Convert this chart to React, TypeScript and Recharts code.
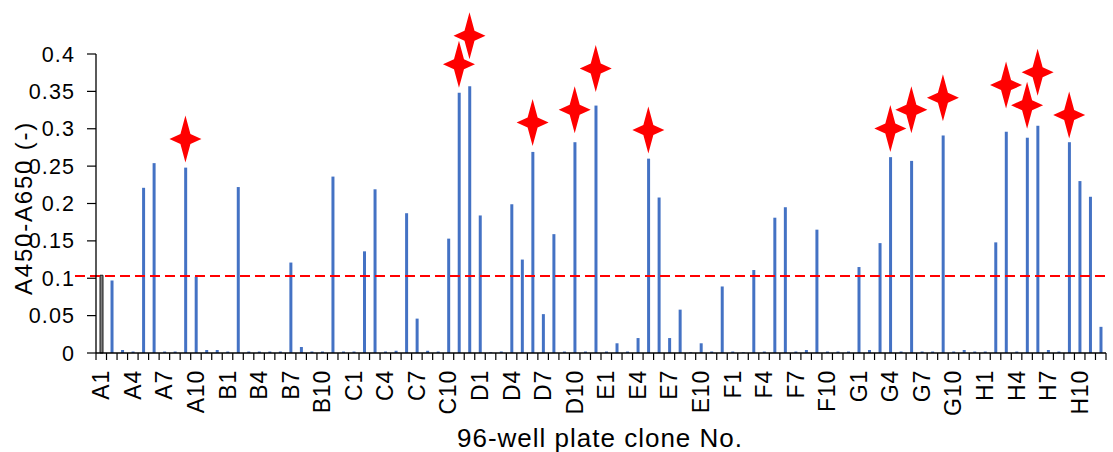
import React from "react";
import { ComposedChart, Bar, Cell, XAxis, YAxis, ReferenceLine, Scatter, Label } from "recharts";

const WELLS = [
  "A1","A2","A3","A4","A5","A6","A7","A8","A9","A10","A11","A12",
  "B1","B2","B3","B4","B5","B6","B7","B8","B9","B10","B11","B12",
  "C1","C2","C3","C4","C5","C6","C7","C8","C9","C10","C11","C12",
  "D1","D2","D3","D4","D5","D6","D7","D8","D9","D10","D11","D12",
  "E1","E2","E3","E4","E5","E6","E7","E8","E9","E10","E11","E12",
  "F1","F2","F3","F4","F5","F6","F7","F8","F9","F10","F11","F12",
  "G1","G2","G3","G4","G5","G6","G7","G8","G9","G10","G11","G12",
  "H1","H2","H3","H4","H5","H6","H7","H8","H9","H10","H11","H12",
];

const ABSORBANCE = [
  0.104, 0.097, 0.004, 0.002, 0.221, 0.254, 0.002, 0.002, 0.248, 0.102, 0.004, 0.004,
  0.002, 0.222, 0.002, 0.002, 0.002, 0.002, 0.121, 0.008, 0.002, 0.002, 0.236, 0.002,
  0.002, 0.136, 0.219, 0.002, 0.003, 0.187, 0.046, 0.003, 0.002, 0.153, 0.348, 0.357,
  0.184, 0.001, 0.002, 0.199, 0.125, 0.269, 0.052, 0.159, 0.002, 0.282, 0.002, 0.331,
  0.002, 0.013, 0.002, 0.020, 0.260, 0.208, 0.020, 0.058, 0.001, 0.013, 0.002, 0.089,
  0.002, 0.001, 0.111, 0.002, 0.181, 0.195, 0.002, 0.004, 0.165, 0.002, 0.002, 0.002,
  0.115, 0.004, 0.147, 0.262, 0.002, 0.257, 0.002, 0.002, 0.291, 0.002, 0.004, 0.002,
  0.002, 0.148, 0.296, 0.002, 0.288, 0.304, 0.004, 0.002, 0.282, 0.230, 0.209, 0.035,
];

const CONTROL_WELL = "A1";
const THRESHOLD = 0.103;

// Marked clones: level of the lower tip of each star marker
const STAR_WELLS = ["A9", "C11", "C12", "D6", "D10", "D12", "E5", "G4", "G6", "G9", "H3", "H5", "H6", "H9"];
const STAR_TIP_VALUES = [0.255, 0.355, 0.393, 0.277, 0.294, 0.349, 0.267, 0.269, 0.294, 0.31, 0.327, 0.3, 0.344, 0.287];

const X_TICK_LABELS = [
  "A1","A4","A7","A10","B1","B4","B7","B10","C1","C4","C7","C10",
  "D1","D4","D7","D10","E1","E4","E7","E10","F1","F4","F7","F10",
  "G1","G4","G7","G10","H1","H4","H7","H10",
];

const Y_TICKS = [0, 0.05, 0.1, 0.15, 0.2, 0.25, 0.3, 0.35, 0.4];
const Y_TICK_LABELS = ["0", "0.05", "0.1", "0.15", "0.2", "0.25", "0.3", "0.35", "0.4"];

const X_TITLE = "96-well plate clone No.";
const Y_TITLE = "A450-A650 (-)";

const data = WELLS.map((well, i) => {
  const s = STAR_WELLS.indexOf(well);
  return { well, value: ABSORBANCE[i], star: s >= 0 ? STAR_TIP_VALUES[s] : null };
});

const W = 1113;
const H = 452;
const MARGIN = { top: 54, right: 7, bottom: 0, left: 0 };
const Y_AXIS_W = 96;
const X_AXIS_H = 99;
const PLOT_W = W - MARGIN.left - MARGIN.right - Y_AXIS_W;
const BAND = PLOT_W / WELLS.length;
const FONT = "'Liberation Sans', Arial, sans-serif";
const BLUE = "#4472C4";
const RED = "#FF0000";
const STAR_W = 16;
const STAR_H = 23.5;

const XTick = (props: any) => {
  const { x, y, payload, index } = props;
  const left = x - BAND / 2;
  const right = x + BAND / 2;
  const show = X_TICK_LABELS.includes(payload.value);
  const tx = x + 8;
  const ty = y + 17;
  return (
    <g>
      <line x1={left} x2={left} y1={y} y2={y + 7} stroke="#000" strokeWidth={1.2} />
      {index === WELLS.length - 1 && (
        <line x1={right} x2={right} y1={y} y2={y + 7} stroke="#000" strokeWidth={1.2} />
      )}
      {show && (
        <text
          x={tx}
          y={ty}
          transform={`rotate(-90 ${tx} ${ty})`}
          textAnchor="end"
          fontFamily={FONT}
          fontSize={23}
          letterSpacing={0.8}
          fill="#000"
        >
          {payload.value}
        </text>
      )}
    </g>
  );
};

const YTick = (props: any) => {
  const { x, y, index } = props;
  return (
    <text x={x} y={y + 7.5} textAnchor="end" fontFamily={FONT} fontSize={21.5} letterSpacing={1.1} fill="#000">
      {Y_TICK_LABELS[index]}
    </text>
  );
};

const StarShape = (props: any) => {
  const { cx, cy: tipY, payload } = props;
  if (!payload || payload.star == null || !isFinite(cx) || !isFinite(tipY)) return <g />;
  const cy = tipY - STAR_H;
  const w = STAR_W;
  const h = STAR_H;
  const a = 5;
  const d = `M${cx},${cy - h} L${cx + a},${cy - a} L${cx + w},${cy} L${cx + a},${cy + a} L${cx},${cy + h} L${cx - a},${cy + a} L${cx - w},${cy} L${cx - a},${cy - a} Z`;
  return <path d={d} fill={RED} stroke="none" />;
};

const ThresholdLine = (props: any) => {
  const { x1, y1, x2, y2 } = props;
  return (
    <line
      x1={x1 - 21}
      y1={y1}
      x2={x2 + 4}
      y2={y2}
      stroke={RED}
      strokeWidth={2}
      strokeDasharray="10 5"
    />
  );
};

export default function App() {
  return (
    <div style={{ position: "absolute", left: 0, top: 0, width: W, height: H, background: "#fff" }}>
      <ComposedChart width={W} height={H} data={data} margin={MARGIN} barGap={0}>
        <XAxis
          dataKey="well"
          type="category"
          interval={0}
          height={X_AXIS_H}
          tickSize={0}
          tickMargin={0}
          tickLine={false}
          axisLine={{ stroke: "#000", strokeWidth: 1.3 }}
          tick={<XTick />}
        >
          <Label
            content={() => (
              <text x={600} y={447} textAnchor="middle" fontFamily={FONT} fontSize={26} letterSpacing={1} fill="#000">
                {X_TITLE}
              </text>
            )}
          />
        </XAxis>
        <YAxis
          type="number"
          domain={[0, 0.4]}
          ticks={Y_TICKS}
          interval={0}
          width={Y_AXIS_W}
          tickSize={9}
          tickMargin={12}
          tickLine={{ stroke: "#000", strokeWidth: 1.2 }}
          axisLine={{ stroke: "#000", strokeWidth: 1.3 }}
          tick={<YTick />}
        >
          <Label
            content={() => (
              <text
                x={32}
                y={208}
                transform="rotate(-90 32 208)"
                textAnchor="middle"
                fontFamily={FONT}
                fontSize={24}
                letterSpacing={1.8}
                fill="#000"
              >
                {Y_TITLE}
              </text>
            )}
          />
        </YAxis>
        <Bar dataKey="value" barSize={3} isAnimationActive={false}>
          {data.map((d) => (
            <Cell
              key={d.well}
              fill={d.well === CONTROL_WELL ? "#7f7f7f" : BLUE}
              stroke={d.well === CONTROL_WELL ? "#1a1a1a" : "none"}
              strokeWidth={d.well === CONTROL_WELL ? 1 : 0}
            />
          ))}
        </Bar>
        <ReferenceLine y={THRESHOLD} ifOverflow="visible" shape={<ThresholdLine />} />
        <Scatter dataKey="star" isAnimationActive={false} shape={<StarShape />} />
      </ComposedChart>
    </div>
  );
}
